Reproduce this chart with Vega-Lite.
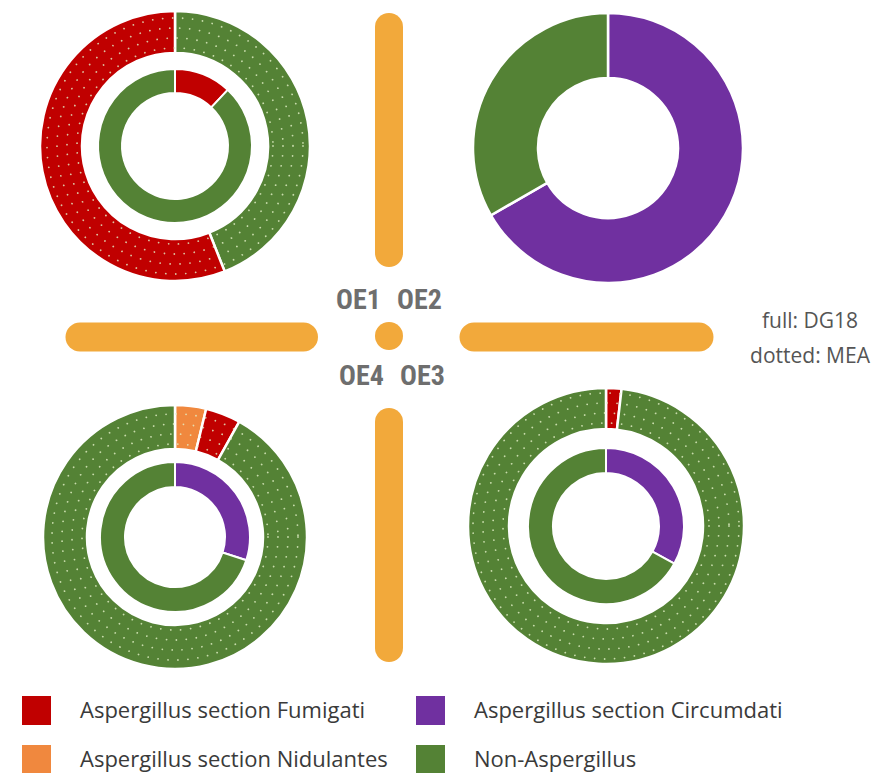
{
  "$schema": "https://vega.github.io/schema/vega-lite/v6.json",
  "width": 873,
  "height": 773,
  "autosize": {"type": "none"},
  "padding": 0,
  "background": "#ffffff",
  "config": {"view": {"stroke": null}},
  "datasets": {
    "fungi": [
      {"site": "OE1", "medium": "MEA", "category": "Non-Aspergillus", "value": 44},
      {"site": "OE1", "medium": "MEA", "category": "Aspergillus section Fumigati", "value": 56},
      {"site": "OE1", "medium": "DG18", "category": "Aspergillus section Fumigati", "value": 12},
      {"site": "OE1", "medium": "DG18", "category": "Non-Aspergillus", "value": 88},
      {"site": "OE2", "medium": "DG18", "category": "Aspergillus section Circumdati", "value": 66.7},
      {"site": "OE2", "medium": "DG18", "category": "Non-Aspergillus", "value": 33.3},
      {"site": "OE3", "medium": "MEA", "category": "Aspergillus section Fumigati", "value": 1.8},
      {"site": "OE3", "medium": "MEA", "category": "Non-Aspergillus", "value": 98.2},
      {"site": "OE3", "medium": "DG18", "category": "Aspergillus section Circumdati", "value": 33},
      {"site": "OE3", "medium": "DG18", "category": "Non-Aspergillus", "value": 67},
      {"site": "OE4", "medium": "MEA", "category": "Aspergillus section Nidulantes", "value": 3.8},
      {"site": "OE4", "medium": "MEA", "category": "Aspergillus section Fumigati", "value": 4.3},
      {"site": "OE4", "medium": "MEA", "category": "Non-Aspergillus", "value": 91.9},
      {"site": "OE4", "medium": "DG18", "category": "Aspergillus section Circumdati", "value": 30},
      {"site": "OE4", "medium": "DG18", "category": "Non-Aspergillus", "value": 70}
    ]
  },
  "data": {"name": "fungi"},
  "layer": [
    {
      "transform": [{"filter": "datum.site === 'OE1' && datum.medium === 'MEA'"}],
      "mark": {"type": "arc", "radius": 135, "radius2": 93, "stroke": "#ffffff", "strokeWidth": 2.5},
      "encoding": {
        "x": {"datum": "west", "type": "nominal", "scale": {"type": "point", "domain": ["west", "center", "east"], "range": [175, 606], "padding": 0}, "axis": null},
        "y": {"datum": "north", "type": "nominal", "scale": {"type": "point", "domain": ["north", "center", "south"], "range": [146, 526], "padding": 0}, "axis": null},
        "theta": {"field": "value", "type": "quantitative", "stack": true, "scale": {"domain": [0, 100]}},
        "order": {"field": "value", "type": "quantitative", "sort": "ascending"},
        "color": {
          "field": "category", "type": "nominal",
          "scale": {"domain": ["Aspergillus section Fumigati", "Aspergillus section Circumdati", "Aspergillus section Nidulantes", "Non-Aspergillus"], "range": ["#c00000", "#7030a0", "#f0883e", "#548235"]},
          "legend": {"orient": "none", "legendX": 22, "legendY": 696, "direction": "horizontal", "columns": 2, "title": null, "symbolType": "square", "symbolSize": 841, "symbolStrokeWidth": 0, "symbolOpacity": 1, "labelFont": "Open Sans", "labelFontSize": 22, "labelColor": "#3a3a3a", "labelOffset": 29, "rowPadding": 20, "columnPadding": 28, "labelLimit": 500}
        }
      }
    },
    {
      "transform": [{"filter": "datum.site === 'OE1' && datum.medium === 'DG18'"}],
      "mark": {"type": "arc", "radius": 77, "radius2": 53, "stroke": "#ffffff", "strokeWidth": 2},
      "encoding": {
        "x": {"datum": "west", "type": "nominal", "scale": {"type": "point", "domain": ["west", "center", "east"], "range": [175, 606], "padding": 0}, "axis": null},
        "y": {"datum": "north", "type": "nominal", "scale": {"type": "point", "domain": ["north", "center", "south"], "range": [146, 526], "padding": 0}, "axis": null},
        "theta": {"field": "value", "type": "quantitative", "stack": true, "scale": {"domain": [0, 100]}},
        "order": {"field": "value", "type": "quantitative", "sort": "ascending"},
        "color": {"field": "category", "type": "nominal"}
      }
    },
    {
      "transform": [{"filter": "datum.site === 'OE2' && datum.medium === 'DG18'"}],
      "mark": {"type": "arc", "radius": 135, "radius2": 70, "stroke": "#ffffff", "strokeWidth": 2.5, "xOffset": 2, "yOffset": 2},
      "encoding": {
        "x": {"datum": "east", "type": "nominal", "scale": {"type": "point", "domain": ["west", "center", "east"], "range": [175, 606], "padding": 0}, "axis": null},
        "y": {"datum": "north", "type": "nominal", "scale": {"type": "point", "domain": ["north", "center", "south"], "range": [146, 526], "padding": 0}, "axis": null},
        "theta": {"field": "value", "type": "quantitative", "stack": true, "scale": {"domain": [0, 100]}},
        "order": {"field": "value", "type": "quantitative", "sort": "descending"},
        "color": {"field": "category", "type": "nominal"}
      }
    },
    {
      "transform": [{"filter": "datum.site === 'OE3' && datum.medium === 'MEA'"}],
      "mark": {"type": "arc", "radius": 138, "radius2": 97, "stroke": "#ffffff", "strokeWidth": 2.5},
      "encoding": {
        "x": {"datum": "east", "type": "nominal", "scale": {"type": "point", "domain": ["west", "center", "east"], "range": [175, 606], "padding": 0}, "axis": null},
        "y": {"datum": "south", "type": "nominal", "scale": {"type": "point", "domain": ["north", "center", "south"], "range": [146, 526], "padding": 0}, "axis": null},
        "theta": {"field": "value", "type": "quantitative", "stack": true, "scale": {"domain": [0, 100]}},
        "order": {"field": "value", "type": "quantitative", "sort": "ascending"},
        "color": {"field": "category", "type": "nominal"}
      }
    },
    {
      "transform": [{"filter": "datum.site === 'OE3' && datum.medium === 'DG18'"}],
      "mark": {"type": "arc", "radius": 78, "radius2": 53, "stroke": "#ffffff", "strokeWidth": 2},
      "encoding": {
        "x": {"datum": "east", "type": "nominal", "scale": {"type": "point", "domain": ["west", "center", "east"], "range": [175, 606], "padding": 0}, "axis": null},
        "y": {"datum": "south", "type": "nominal", "scale": {"type": "point", "domain": ["north", "center", "south"], "range": [146, 526], "padding": 0}, "axis": null},
        "theta": {"field": "value", "type": "quantitative", "stack": true, "scale": {"domain": [0, 100]}},
        "order": {"field": "value", "type": "quantitative", "sort": "ascending"},
        "color": {"field": "category", "type": "nominal"}
      }
    },
    {
      "transform": [{"filter": "datum.site === 'OE4' && datum.medium === 'MEA'"}],
      "mark": {"type": "arc", "radius": 132, "radius2": 88, "stroke": "#ffffff", "strokeWidth": 2.5, "yOffset": 11},
      "encoding": {
        "x": {"datum": "west", "type": "nominal", "scale": {"type": "point", "domain": ["west", "center", "east"], "range": [175, 606], "padding": 0}, "axis": null},
        "y": {"datum": "south", "type": "nominal", "scale": {"type": "point", "domain": ["north", "center", "south"], "range": [146, 526], "padding": 0}, "axis": null},
        "theta": {"field": "value", "type": "quantitative", "stack": true, "scale": {"domain": [0, 100]}},
        "order": {"field": "value", "type": "quantitative", "sort": "ascending"},
        "color": {"field": "category", "type": "nominal"}
      }
    },
    {
      "transform": [{"filter": "datum.site === 'OE4' && datum.medium === 'DG18'"}],
      "mark": {"type": "arc", "radius": 75, "radius2": 50, "stroke": "#ffffff", "strokeWidth": 2, "yOffset": 11},
      "encoding": {
        "x": {"datum": "west", "type": "nominal", "scale": {"type": "point", "domain": ["west", "center", "east"], "range": [175, 606], "padding": 0}, "axis": null},
        "y": {"datum": "south", "type": "nominal", "scale": {"type": "point", "domain": ["north", "center", "south"], "range": [146, 526], "padding": 0}, "axis": null},
        "theta": {"field": "value", "type": "quantitative", "stack": true, "scale": {"domain": [0, 100]}},
        "order": {"field": "value", "type": "quantitative", "sort": "ascending"},
        "color": {"field": "category", "type": "nominal"}
      }
    },
    {"data": {"values": [{}]}, "mark": {"type": "point", "shape": "circle", "size": 38416, "filled": false, "stroke": "#e4f2c8", "strokeWidth": 1.8, "strokeDash": [0.01, 10], "strokeCap": "round", "opacity": 0.8}, "encoding": {"x": {"datum": "west", "type": "nominal"}, "y": {"datum": "north", "type": "nominal"}}},
    {"data": {"values": [{}]}, "mark": {"type": "point", "shape": "circle", "size": 46656, "filled": false, "stroke": "#e4f2c8", "strokeWidth": 1.8, "strokeDash": [0.01, 10], "strokeCap": "round", "opacity": 0.8}, "encoding": {"x": {"datum": "west", "type": "nominal"}, "y": {"datum": "north", "type": "nominal"}}},
    {"data": {"values": [{}]}, "mark": {"type": "point", "shape": "circle", "size": 55696, "filled": false, "stroke": "#e4f2c8", "strokeWidth": 1.8, "strokeDash": [0.01, 10], "strokeCap": "round", "opacity": 0.8}, "encoding": {"x": {"datum": "west", "type": "nominal"}, "y": {"datum": "north", "type": "nominal"}}},
    {"data": {"values": [{}]}, "mark": {"type": "point", "shape": "circle", "size": 65536, "filled": false, "stroke": "#e4f2c8", "strokeWidth": 1.8, "strokeDash": [0.01, 10], "strokeCap": "round", "opacity": 0.8}, "encoding": {"x": {"datum": "west", "type": "nominal"}, "y": {"datum": "north", "type": "nominal"}}},
    {"data": {"values": [{}]}, "mark": {"type": "point", "shape": "circle", "size": 34596, "filled": false, "stroke": "#e4f2c8", "strokeWidth": 1.8, "strokeDash": [0.01, 10], "strokeCap": "round", "opacity": 0.8, "yOffset": 11}, "encoding": {"x": {"datum": "west", "type": "nominal"}, "y": {"datum": "south", "type": "nominal"}}},
    {"data": {"values": [{}]}, "mark": {"type": "point", "shape": "circle", "size": 42436, "filled": false, "stroke": "#e4f2c8", "strokeWidth": 1.8, "strokeDash": [0.01, 10], "strokeCap": "round", "opacity": 0.8, "yOffset": 11}, "encoding": {"x": {"datum": "west", "type": "nominal"}, "y": {"datum": "south", "type": "nominal"}}},
    {"data": {"values": [{}]}, "mark": {"type": "point", "shape": "circle", "size": 51076, "filled": false, "stroke": "#e4f2c8", "strokeWidth": 1.8, "strokeDash": [0.01, 10], "strokeCap": "round", "opacity": 0.8, "yOffset": 11}, "encoding": {"x": {"datum": "west", "type": "nominal"}, "y": {"datum": "south", "type": "nominal"}}},
    {"data": {"values": [{}]}, "mark": {"type": "point", "shape": "circle", "size": 60516, "filled": false, "stroke": "#e4f2c8", "strokeWidth": 1.8, "strokeDash": [0.01, 10], "strokeCap": "round", "opacity": 0.8, "yOffset": 11}, "encoding": {"x": {"datum": "west", "type": "nominal"}, "y": {"datum": "south", "type": "nominal"}}},
    {"data": {"values": [{}]}, "mark": {"type": "point", "shape": "circle", "size": 42436, "filled": false, "stroke": "#e4f2c8", "strokeWidth": 1.8, "strokeDash": [0.01, 10], "strokeCap": "round", "opacity": 0.8}, "encoding": {"x": {"datum": "east", "type": "nominal"}, "y": {"datum": "south", "type": "nominal"}}},
    {"data": {"values": [{}]}, "mark": {"type": "point", "shape": "circle", "size": 51076, "filled": false, "stroke": "#e4f2c8", "strokeWidth": 1.8, "strokeDash": [0.01, 10], "strokeCap": "round", "opacity": 0.8}, "encoding": {"x": {"datum": "east", "type": "nominal"}, "y": {"datum": "south", "type": "nominal"}}},
    {"data": {"values": [{}]}, "mark": {"type": "point", "shape": "circle", "size": 60516, "filled": false, "stroke": "#e4f2c8", "strokeWidth": 1.8, "strokeDash": [0.01, 10], "strokeCap": "round", "opacity": 0.8}, "encoding": {"x": {"datum": "east", "type": "nominal"}, "y": {"datum": "south", "type": "nominal"}}},
    {"data": {"values": [{}]}, "mark": {"type": "point", "shape": "circle", "size": 70756, "filled": false, "stroke": "#e4f2c8", "strokeWidth": 1.8, "strokeDash": [0.01, 10], "strokeCap": "round", "opacity": 0.8}, "encoding": {"x": {"datum": "east", "type": "nominal"}, "y": {"datum": "south", "type": "nominal"}}},
    {"data": {"values": [{}]}, "mark": {"type": "rule", "color": "#f2a93b", "strokeWidth": 28, "strokeCap": "round", "xOffset": -1.5, "yOffset": -119, "y2Offset": -83}, "encoding": {"x": {"datum": "center", "type": "nominal"}, "y": {"datum": "north", "type": "nominal"}, "y2": {"datum": "center"}}},
    {"data": {"values": [{}]}, "mark": {"type": "rule", "color": "#f2a93b", "strokeWidth": 28, "strokeCap": "round", "xOffset": -1.5, "yOffset": -104, "y2Offset": 122}, "encoding": {"x": {"datum": "center", "type": "nominal"}, "y": {"datum": "south", "type": "nominal"}, "y2": {"datum": "south"}}},
    {"data": {"values": [{}]}, "mark": {"type": "rule", "color": "#f2a93b", "strokeWidth": 29, "strokeCap": "round", "yOffset": 1, "xOffset": -95, "x2Offset": -87}, "encoding": {"y": {"datum": "center", "type": "nominal"}, "x": {"datum": "west", "type": "nominal"}, "x2": {"datum": "center"}}},
    {"data": {"values": [{}]}, "mark": {"type": "rule", "color": "#f2a93b", "strokeWidth": 29, "strokeCap": "round", "yOffset": 1, "xOffset": 83.5, "x2Offset": 93}, "encoding": {"y": {"datum": "center", "type": "nominal"}, "x": {"datum": "center", "type": "nominal"}, "x2": {"datum": "east"}}},
    {"data": {"values": [{}]}, "mark": {"type": "point", "shape": "circle", "size": 784, "filled": true, "color": "#f2a93b", "opacity": 1, "xOffset": -1.5}, "encoding": {"x": {"datum": "center", "type": "nominal"}, "y": {"datum": "center", "type": "nominal"}}},
    {"data": {"values": [{}]}, "mark": {"type": "text", "text": "OE1", "font": "'Roboto Condensed', Roboto, sans-serif", "fontWeight": "bold", "fontSize": 28, "color": "#6e6e6e", "align": "center", "baseline": "middle", "dx": -32, "dy": -35}, "encoding": {"x": {"datum": "center", "type": "nominal"}, "y": {"datum": "center", "type": "nominal"}}},
    {"data": {"values": [{}]}, "mark": {"type": "text", "text": "OE2", "font": "'Roboto Condensed', Roboto, sans-serif", "fontWeight": "bold", "fontSize": 28, "color": "#6e6e6e", "align": "center", "baseline": "middle", "dx": 29, "dy": -35}, "encoding": {"x": {"datum": "center", "type": "nominal"}, "y": {"datum": "center", "type": "nominal"}}},
    {"data": {"values": [{}]}, "mark": {"type": "text", "text": "OE4", "font": "'Roboto Condensed', Roboto, sans-serif", "fontWeight": "bold", "fontSize": 28, "color": "#6e6e6e", "align": "center", "baseline": "middle", "dx": -29, "dy": 41}, "encoding": {"x": {"datum": "center", "type": "nominal"}, "y": {"datum": "center", "type": "nominal"}}},
    {"data": {"values": [{}]}, "mark": {"type": "text", "text": "OE3", "font": "'Roboto Condensed', Roboto, sans-serif", "fontWeight": "bold", "fontSize": 28, "color": "#6e6e6e", "align": "center", "baseline": "middle", "dx": 32, "dy": 41}, "encoding": {"x": {"datum": "center", "type": "nominal"}, "y": {"datum": "center", "type": "nominal"}}},
    {"data": {"values": [{}]}, "mark": {"type": "text", "text": ["full: DG18", "dotted: MEA"], "font": "Open Sans", "fontSize": 21, "lineHeight": 35, "color": "#555555", "align": "center", "baseline": "middle", "dx": 204, "dy": -14}, "encoding": {"x": {"datum": "east", "type": "nominal"}, "y": {"datum": "center", "type": "nominal"}}}
  ]
}
